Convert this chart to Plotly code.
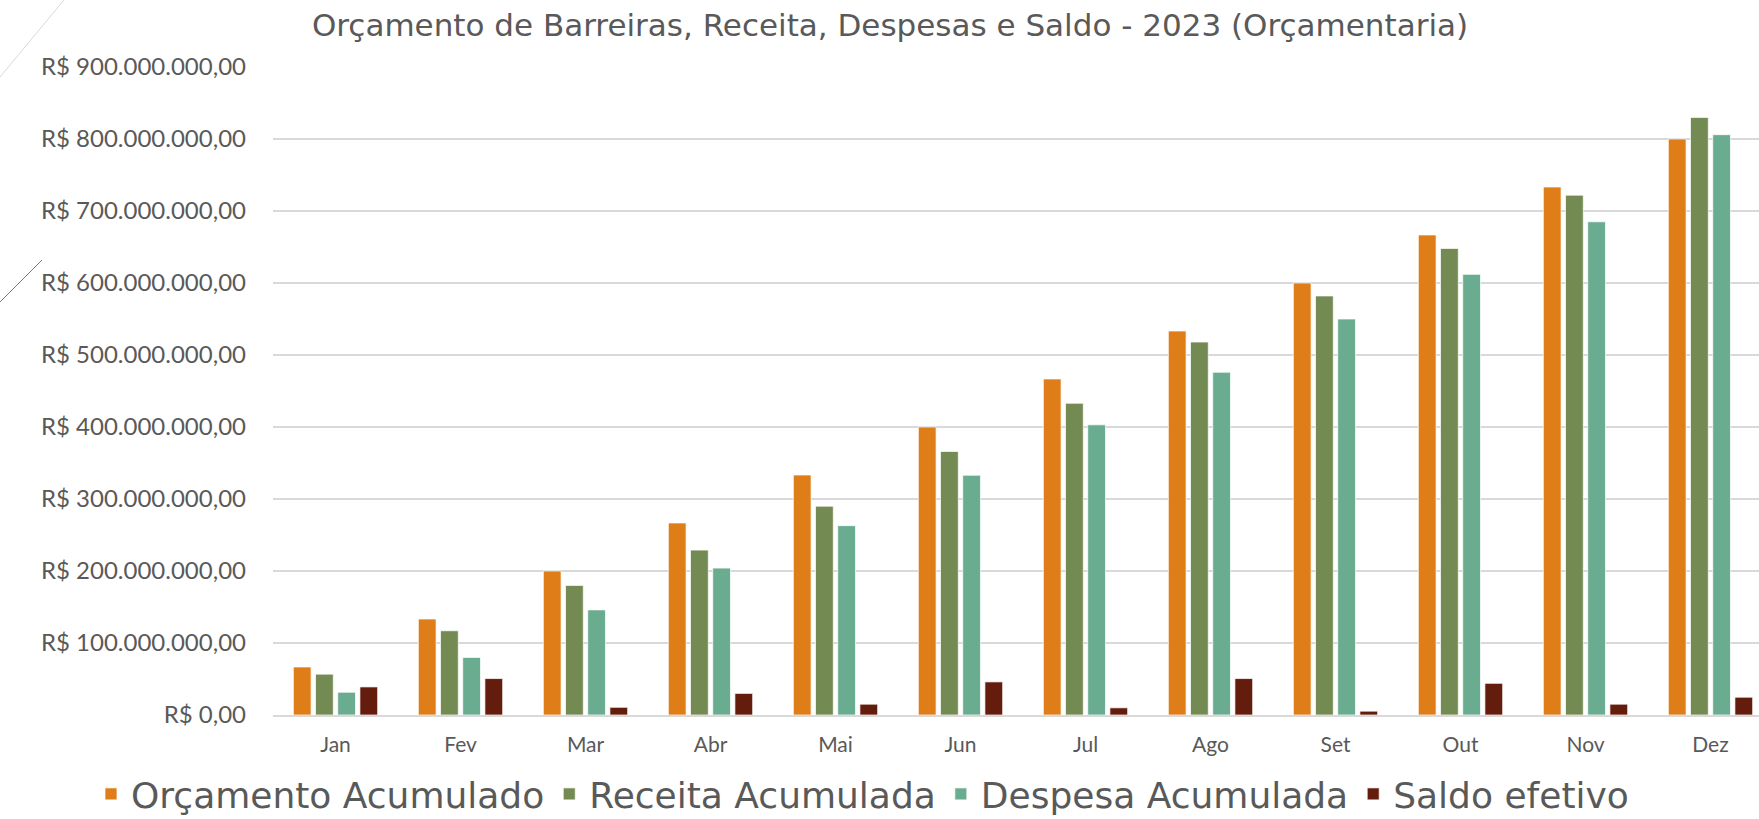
import plotly.graph_objects as go

months = ["Jan", "Fev", "Mar", "Abr", "Mai", "Jun", "Jul", "Ago", "Set", "Out", "Nov", "Dez"]
orcamento = [66.7e6, 133.3e6, 200.0e6, 266.7e6, 333.3e6, 400.0e6, 466.7e6, 533.3e6, 600.0e6, 666.7e6, 733.3e6, 800.0e6]
receita = [56.7e6, 117.0e6, 180.0e6, 229.0e6, 290.0e6, 366.0e6, 433.0e6, 518.0e6, 582.0e6, 648.0e6, 722.0e6, 830.0e6]
despesa = [31.6e6, 80.0e6, 146.0e6, 204.0e6, 263.0e6, 333.0e6, 403.0e6, 476.0e6, 550.0e6, 612.0e6, 685.0e6, 806.0e6]
saldo = [39.0e6, 50.6e6, 10.7e6, 30.0e6, 15.0e6, 46.0e6, 10.0e6, 50.6e6, 5.3e6, 44.0e6, 15.0e6, 24.7e6]

series_names = ["Orçamento Acumulado", "Receita Acumulada", "Despesa Acumulada", "Saldo efetivo"]
series_values = [orcamento, receita, despesa, saldo]
colors = ["#DF7E18", "#738A52", "#6AAC90", "#641C0D"]

y_ticks = [i * 100e6 for i in range(10)]
y_tick_labels = ["R$ 0,00"] + ["R$ %d00.000.000,00" % i for i in range(1, 10)]

FONT = "Lato, 'Open Sans', sans-serif"
WIDE = "'DejaVu Sans', Lato, sans-serif"
TXT = "#595959"

W, H = 1759, 819
ML, MT, MB = 273, 67, 104
plot_w = W - ML
plot_h = H - MT - MB

fig = go.Figure()
for name, vals, col in zip(series_names, series_values, colors):
    fig.add_trace(go.Bar(
        name=name, x=list(range(len(months))), y=vals,
        marker=dict(color=col, line=dict(color="rgba(255,255,255,0.7)", width=1)),
    ))

# pixel -> paper helpers for positioning decorations
def px(x):
    return (x - ML) / plot_w
def py(y):
    return (H - MB - y) / plot_h

shapes = [
    dict(type="line", xref="paper", yref="paper", x0=px(64), y0=py(0), x1=px(0), y1=py(77),
         line=dict(color="#D9D9D9", width=1)),
    dict(type="line", xref="paper", yref="paper", x0=px(42), y0=py(260), x1=px(0), y1=py(302),
         line=dict(color="#8A7A58", width=1)),
]

fig.update_layout(
    width=W, height=H,
    margin=dict(l=ML, r=0, t=MT, b=MB, autoexpand=False),
    paper_bgcolor="white", plot_bgcolor="white",
    barmode="group", bargap=0.29, bargroupgap=0.2,
    title=dict(text="Orçamento de Barreiras, Receita, Despesas e Saldo - 2023 (Orçamentaria)",
               x=890 / W, xanchor="center", y=1 - 25 / H, yanchor="middle",
               font=dict(family=WIDE, size=31, color=TXT)),
    font=dict(family=FONT, color=TXT),
    xaxis=dict(range=[-0.5, -0.5 + plot_w / 125.0], tickvals=list(range(12)), ticktext=months,
               showgrid=False, showline=True, linecolor="#D9D9D9", linewidth=2,
               ticks="", tickfont=dict(family=FONT, size=21, color=TXT), ticklabelstandoff=10,
               zeroline=False, automargin=False),
    yaxis=dict(range=[0, 900e6], tickvals=y_ticks, ticktext=y_tick_labels,
               showgrid=True, gridcolor="#D9D9D9", gridwidth=1.5, zeroline=False,
               showline=False, ticks="", ticklabelstandoff=26, automargin=False,
               tickfont=dict(family=FONT, size=24, color=TXT)),
    legend=dict(orientation="h", xref="paper", yref="paper",
                x=px(91), xanchor="left", y=py(794), yanchor="middle",
                bgcolor="rgba(0,0,0,0)", borderwidth=0,
                font=dict(family=WIDE, size=36, color=TXT), itemwidth=30,
                traceorder="normal"),
    shapes=shapes,
    showlegend=True,
)

fig.write_html("out.html", config={"displayModeBar": False},
               post_script="document.body.style.margin='0';document.body.style.padding='0';")
